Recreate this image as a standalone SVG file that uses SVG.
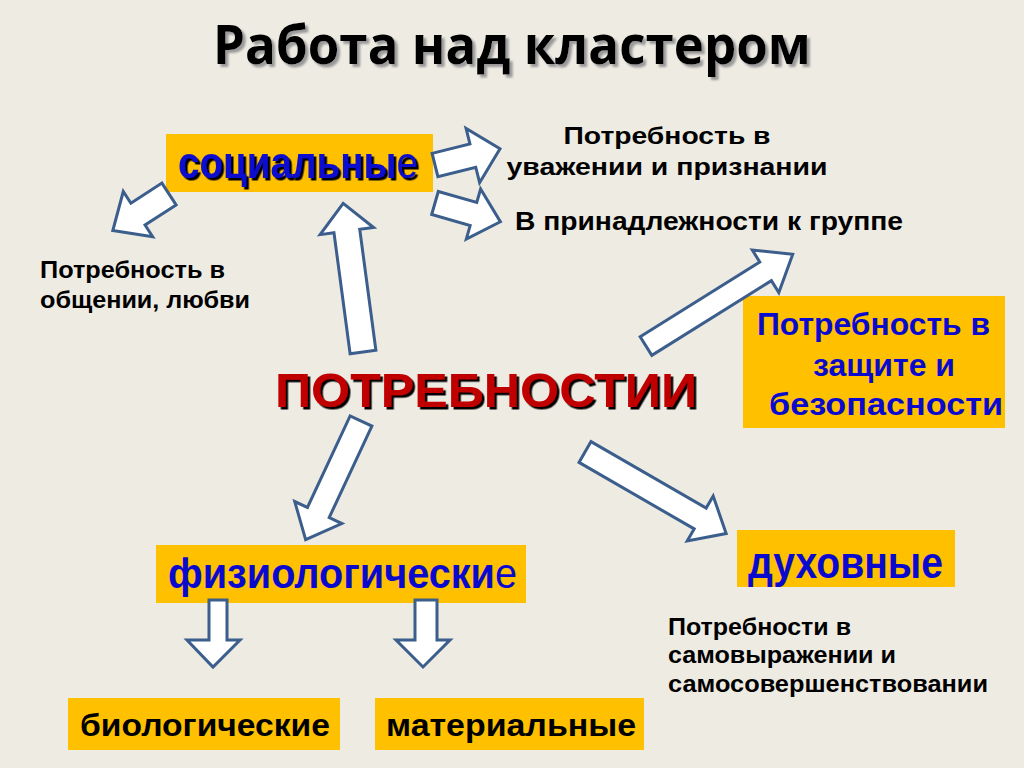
<svg xmlns="http://www.w3.org/2000/svg" width="1024" height="768" viewBox="0 0 1024 768">
<defs>
<filter id="shBlack" x="-5%" y="-20%" width="115%" height="150%">
<feDropShadow dx="2.5" dy="2.5" stdDeviation="0.4" flood-color="#000" flood-opacity="1"/>
</filter>
<filter id="shGray" x="-5%" y="-20%" width="110%" height="150%">
<feDropShadow dx="3" dy="3" stdDeviation="0.8" flood-color="#9A9A9A" flood-opacity="1"/>
</filter>
</defs>
<style>
.bg{fill:#EEEBE3}
.box{fill:#FFC000}
.arr{fill:#FFFFFF;stroke:#3B5E8C;stroke-width:3;stroke-linejoin:miter}
.lbl{font-family:"Liberation Sans",Arial,sans-serif;font-weight:bold;fill:#000}
.blue{font-family:"Liberation Sans",Arial,sans-serif;font-weight:bold;fill:#0A0ACF}
.thin{font-weight:normal}
.title{font-family:"Open Sans","Noto Sans",sans-serif;font-weight:bold;font-size:54px;fill:#000}
</style>
<rect class="bg" x="0" y="0" width="1024" height="768"/>

<g id="title">
<text class="title" x="213" y="64" textLength="598" lengthAdjust="spacingAndGlyphs" filter="url(#shGray)">Работа над кластером</text>
</g>

<g id="node-center">
<text x="275" y="407" font-family="Liberation Sans,Arial,sans-serif" font-weight="bold" font-size="49" fill="#C00000" textLength="422" lengthAdjust="spacingAndGlyphs" filter="url(#shBlack)">ПОТРЕБНОСТИИ</text>
</g>

<g id="node-social">
<rect class="box" x="166" y="134" width="267" height="58"/>
<text class="blue" x="178" y="178" font-size="45" textLength="240" lengthAdjust="spacingAndGlyphs" filter="url(#shBlack)">социальны<tspan class="thin">е</tspan></text>
</g>

<g id="node-respect">
<text class="lbl" font-size="24" x="667" y="144" text-anchor="middle" textLength="207" lengthAdjust="spacingAndGlyphs">Потребность в</text>
<text class="lbl" font-size="24" x="667" y="175" text-anchor="middle" textLength="321" lengthAdjust="spacingAndGlyphs">уважении и признании</text>
</g>

<g id="node-group">
<text class="lbl" font-size="25" x="515" y="230" textLength="388" lengthAdjust="spacingAndGlyphs">В принадлежности к группе</text>
</g>

<g id="node-love">
<text class="lbl" font-size="23" x="40" y="278" textLength="185" lengthAdjust="spacingAndGlyphs">Потребность в</text>
<text class="lbl" font-size="23" x="40" y="308" textLength="210" lengthAdjust="spacingAndGlyphs">общении, любви</text>
</g>

<g id="node-safety">
<rect class="box" x="743" y="296" width="262" height="132"/>
<text class="blue" font-size="31" x="757" y="335" textLength="233" lengthAdjust="spacingAndGlyphs">Потребность в</text>
<text class="blue" font-size="31" x="813" y="376" textLength="142" lengthAdjust="spacingAndGlyphs">защите и</text>
<text class="blue" font-size="31" x="769" y="415" textLength="234" lengthAdjust="spacingAndGlyphs">безопасности</text>
</g>

<g id="node-spiritual">
<rect class="box" x="737" y="530" width="218" height="57"/>
<text class="blue" font-size="44" x="748" y="578" textLength="195" lengthAdjust="spacingAndGlyphs">духовные</text>
</g>

<g id="node-self">
<text class="lbl" font-size="24" x="668" y="635" textLength="183" lengthAdjust="spacingAndGlyphs">Потребности в</text>
<text class="lbl" font-size="24" x="668" y="663" textLength="228" lengthAdjust="spacingAndGlyphs">самовыражении и</text>
<text class="lbl" font-size="24" x="668" y="692" textLength="320" lengthAdjust="spacingAndGlyphs">самосовершенствовании</text>
</g>

<g id="node-physio">
<rect class="box" x="156" y="545" width="370" height="58"/>
<text class="blue" font-size="42" x="168" y="588" textLength="349" lengthAdjust="spacingAndGlyphs">физиологически<tspan class="thin">е</tspan></text>
</g>

<g id="node-bio">
<rect class="box" x="68" y="698" width="272" height="52"/>
<text class="lbl" font-size="32" x="80" y="736" textLength="250" lengthAdjust="spacingAndGlyphs">биологические</text>
</g>

<g id="node-material">
<rect class="box" x="375" y="698" width="269" height="52"/>
<text class="lbl" font-size="32" x="386" y="736" textLength="250" lengthAdjust="spacingAndGlyphs">материальные</text>
</g>

<g id="connectors">
<polygon class="arr" points="0,-12 39,-12 39,-28 67,0 39,28 39,12 0,12" transform="translate(435,165) rotate(-14)"/>
<polygon class="arr" points="0,-12 40,-12 40,-26 68,0 40,26 40,12 0,12" transform="translate(435,203) rotate(16)"/>
<polygon class="arr" points="0,-13 37,-13 37,-27 67,0 37,27 37,13 0,13" transform="translate(169,194) rotate(147)"/>
<polygon class="arr" points="0,-13 122,-13 122,-27 150,0 122,27 122,13 0,13" transform="translate(363,352) rotate(-97.6)"/>
<polygon class="arr" points="0,-11 141,-11 141,-25 173,0 141,25 141,11 0,11" transform="translate(646,346) rotate(-32)"/>
<polygon class="arr" points="0,-12 101,-12 101,-26 131,0 101,26 101,12 0,12" transform="translate(361,421) rotate(115)"/>
<polygon class="arr" points="0,-12 133,-12 133,-26 163,0 133,26 133,12 0,12" transform="translate(585,452) rotate(30)"/>
<polygon class="arr" points="209,600 227,600 227,640 240,640 213,667 187,640 209,640"/>
<polygon class="arr" points="415,600 437,600 437,640 450,640 423,667 396,640 415,640"/>
</g>
</svg>
